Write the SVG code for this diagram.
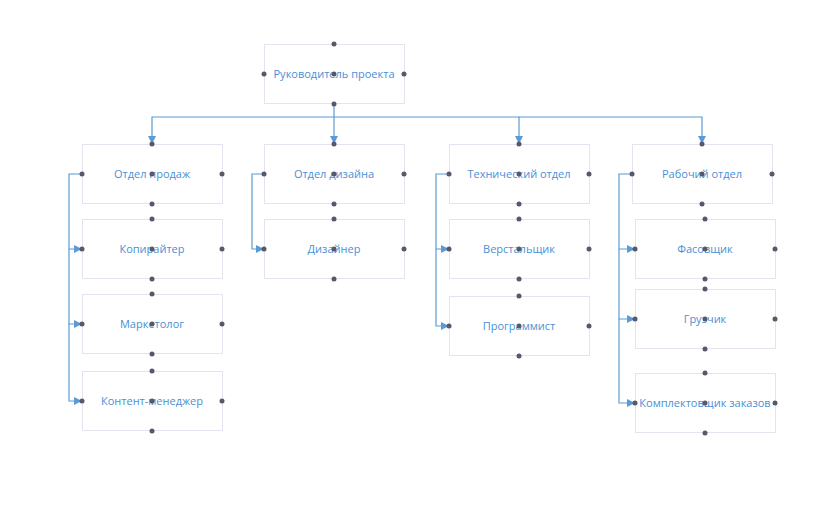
<svg xmlns="http://www.w3.org/2000/svg" width="837" height="512" viewBox="0 0 837 512">
<style>
.box{fill:#ffffff;stroke:#e3e4f0;stroke-width:1}
.lbl{font-family:"Open Sans","Noto Sans",sans-serif;font-size:11px;fill:#4a8fd6;text-anchor:middle;dominant-baseline:central}
.dot{fill:#555a6a}
.con{fill:none;stroke:#5b9bd5;stroke-width:1.2}
</style>
<defs>
<marker id="ar" viewBox="0 0 10 10" refX="10" refY="5" markerWidth="8" markerHeight="8" markerUnits="userSpaceOnUse" orient="auto">
<path d="M0,0 L10,5 L0,10 z" fill="#5b9bd5"/>
</marker>
<g id="dots"><circle class="dot" cx="0" cy="-30" r="2.5"/><circle class="dot" cx="-70" cy="0" r="2.5"/><circle class="dot" cx="70" cy="0" r="2.5"/><circle class="dot" cx="0" cy="0" r="2.5"/><circle class="dot" cx="0" cy="30" r="2.5"/></g>
</defs>
<rect width="837" height="512" fill="#ffffff"/>
<g id="connectors">
<path class="con" d="M334,104 V117 H152 V144" marker-end="url(#ar)"/>
<path class="con" d="M334,117 V144" marker-end="url(#ar)"/>
<path class="con" d="M334,117 H519 V144" marker-end="url(#ar)"/>
<path class="con" d="M519,117 H702 V144" marker-end="url(#ar)"/>
<path class="con" d="M82,174 H69 V249 H82" marker-end="url(#ar)"/>
<path class="con" d="M69,249 V324 H82" marker-end="url(#ar)"/>
<path class="con" d="M69,324 V401 H82" marker-end="url(#ar)"/>
<path class="con" d="M264,174 H252 V249 H264" marker-end="url(#ar)"/>
<path class="con" d="M449,174 H436 V249 H449" marker-end="url(#ar)"/>
<path class="con" d="M436,249 V326 H449" marker-end="url(#ar)"/>
<path class="con" d="M632,174 H619 V249 H635" marker-end="url(#ar)"/>
<path class="con" d="M619,249 V319 H635" marker-end="url(#ar)"/>
<path class="con" d="M619,319 V403 H635" marker-end="url(#ar)"/>
</g>
<g id="n-head"><rect class="box" x="264.5" y="44.5" width="140" height="59"/><text class="lbl" x="334" y="73">Руководитель проекта</text><use href="#dots" x="334" y="74"/></g>
<g id="n-sales"><rect class="box" x="82.5" y="144.5" width="140" height="59"/><text class="lbl" x="152" y="173">Отдел продаж</text><use href="#dots" x="152" y="174"/></g>
<g id="n-copy"><rect class="box" x="82.5" y="219.5" width="140" height="59"/><text class="lbl" x="152" y="248">Копирайтер</text><use href="#dots" x="152" y="249"/></g>
<g id="n-mark"><rect class="box" x="82.5" y="294.5" width="140" height="59"/><text class="lbl" x="152" y="323">Маркетолог</text><use href="#dots" x="152" y="324"/></g>
<g id="n-cont"><rect class="box" x="82.5" y="371.5" width="140" height="59"/><text class="lbl" x="152" y="400">Контент-менеджер</text><use href="#dots" x="152" y="401"/></g>
<g id="n-design"><rect class="box" x="264.5" y="144.5" width="140" height="59"/><text class="lbl" x="334" y="173">Отдел дизайна</text><use href="#dots" x="334" y="174"/></g>
<g id="n-designer"><rect class="box" x="264.5" y="219.5" width="140" height="59"/><text class="lbl" x="334" y="248">Дизайнер</text><use href="#dots" x="334" y="249"/></g>
<g id="n-tech"><rect class="box" x="449.5" y="144.5" width="140" height="59"/><text class="lbl" x="519" y="173">Технический отдел</text><use href="#dots" x="519" y="174"/></g>
<g id="n-layout"><rect class="box" x="449.5" y="219.5" width="140" height="59"/><text class="lbl" x="519" y="248">Верстальщик</text><use href="#dots" x="519" y="249"/></g>
<g id="n-prog"><rect class="box" x="449.5" y="296.5" width="140" height="59"/><text class="lbl" x="519" y="325">Программист</text><use href="#dots" x="519" y="326"/></g>
<g id="n-work"><rect class="box" x="632.5" y="144.5" width="140" height="59"/><text class="lbl" x="702" y="173">Рабочий отдел</text><use href="#dots" x="702" y="174"/></g>
<g id="n-pack"><rect class="box" x="635.5" y="219.5" width="140" height="59"/><text class="lbl" x="705" y="248">Фасовщик</text><use href="#dots" x="705" y="249"/></g>
<g id="n-load"><rect class="box" x="635.5" y="289.5" width="140" height="59"/><text class="lbl" x="705" y="318">Грузчик</text><use href="#dots" x="705" y="319"/></g>
<g id="n-pick"><rect class="box" x="635.5" y="373.5" width="140" height="59"/><text class="lbl" x="705" y="402">Комплектовщик заказов</text><use href="#dots" x="705" y="403"/></g>
</svg>
